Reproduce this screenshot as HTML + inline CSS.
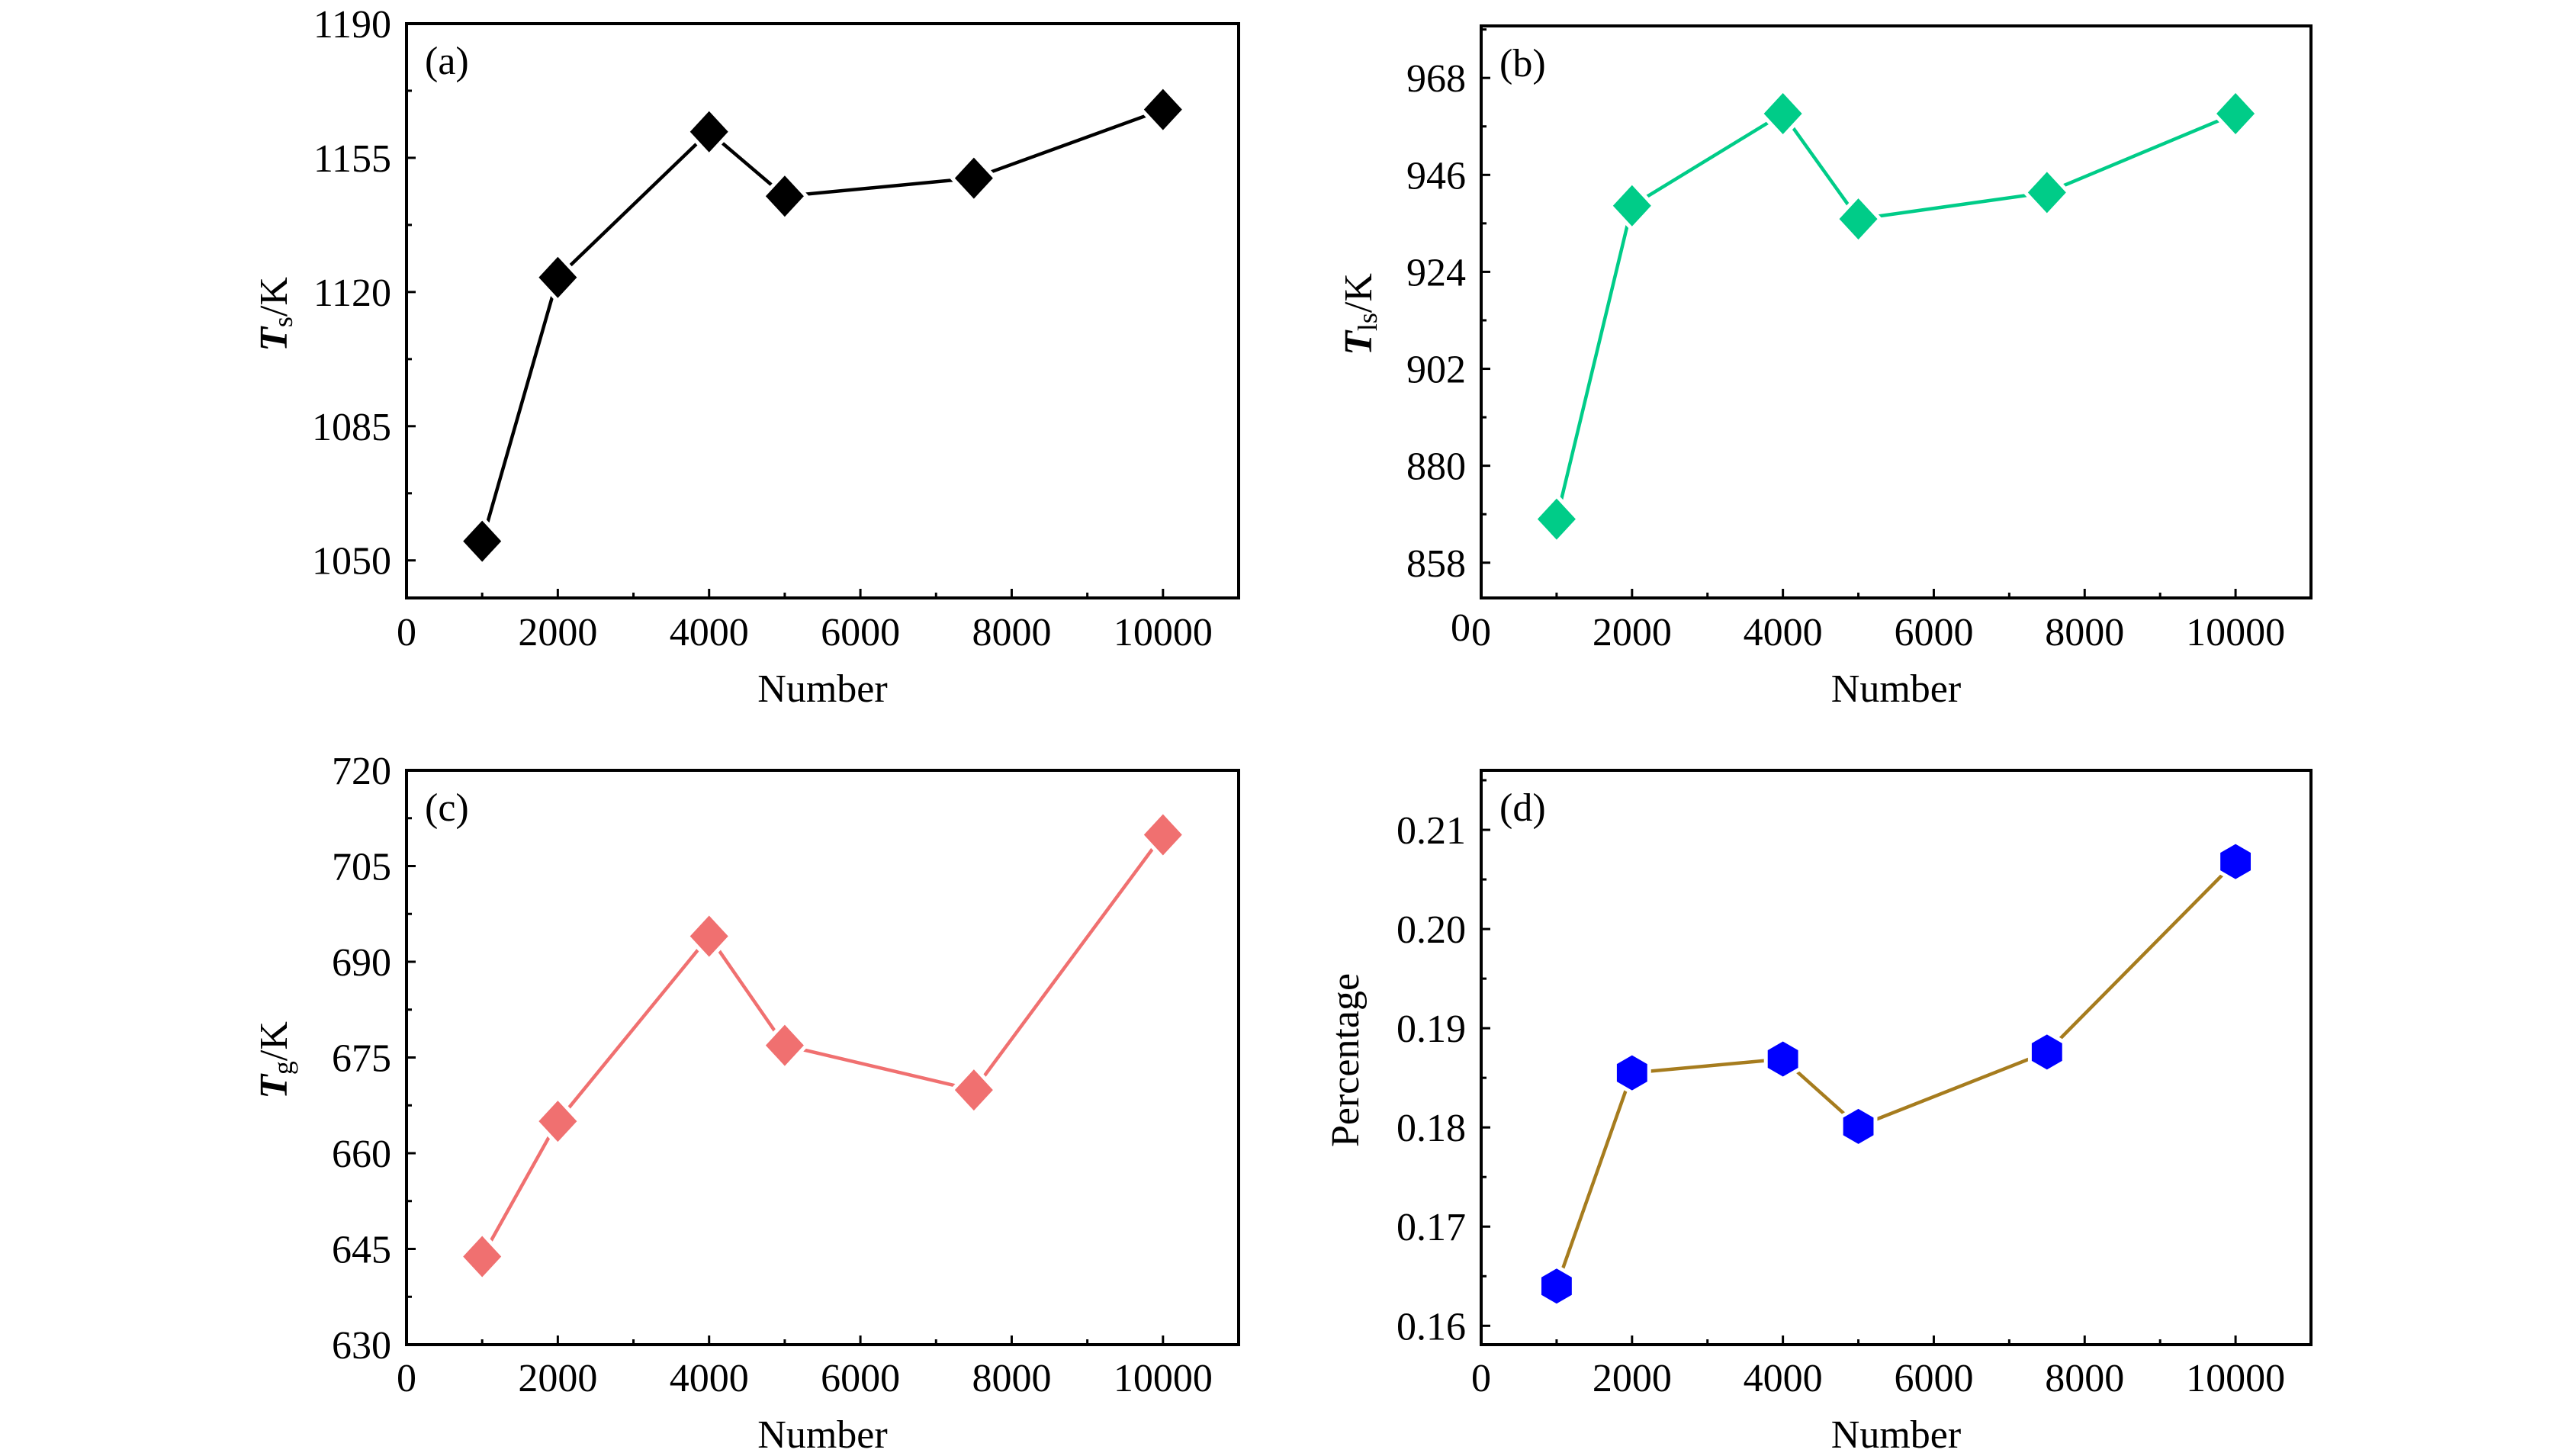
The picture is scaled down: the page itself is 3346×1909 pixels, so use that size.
<!DOCTYPE html>
<html><head><meta charset="utf-8"><style>
html,body{margin:0;padding:0;background:#fff;overflow:hidden;}
svg{display:block;}
text{font-family:"Liberation Serif","DejaVu Serif",serif;fill:#000;}
</style></head><body>
<svg id="fig" width="3346" height="1909" viewBox="0 0 3346 1909" xmlns="http://www.w3.org/2000/svg"></svg>
<script>
const categories = [1000, 2000, 4000, 5000, 7500, 10000];
const seriesA = [1055, 1123.8, 1161.8, 1145, 1149.7, 1167.6];
const seriesB = [867.9, 939.0, 959.9, 936.0, 942.0, 959.9];
const seriesC = [643.8, 665.0, 694.0, 676.9, 669.9, 709.9];
const seriesD = [0.1640, 0.1855, 0.1869, 0.1801, 0.1876, 0.2068];
const xTicks = [0, 2000, 4000, 6000, 8000, 10000];
const xMinor = [1000, 3000, 5000, 7000, 9000];
const ticksA = [1050, 1085, 1120, 1155, 1190];
const ticksB = [858, 880, 902, 924, 946, 968];
const ticksC = [630, 645, 660, 675, 690, 705, 720];
const ticksD = [0.16, 0.17, 0.18, 0.19, 0.20, 0.21];

const NS = "http://www.w3.org/2000/svg";
const svg = document.getElementById('fig');
function mk(tag, attrs, parent){const e=document.createElementNS(NS,tag);for(const k in attrs)e.setAttribute(k,attrs[k]);(parent||svg).appendChild(e);return e;}
const FS = 52;

const panels = [
 {id:'a',L:533,R:1624,T:31,B:784,ymin:1040.2,ymax:1190,ticks:ticksA,minorStep:17.5,data:seriesA,color:'#000000',mcolor:'#000000',marker:'diamond',fmt:v=>String(v),ttl:['T','s','/K'],tx:360,ty:412,xlY:846,nY:920,extraZero:false},
 {id:'b',L:1942,R:3030,T:34,B:784,ymin:850,ymax:979.8,ticks:ticksB,minorStep:11,data:seriesB,color:'#00CC88',mcolor:'#00CC88',marker:'diamond',fmt:v=>String(v),ttl:['T','ls','/K'],tx:1782,ty:412,xlY:846,nY:920,extraZero:true},
 {id:'c',L:533,R:1624,T:1010,B:1763,ymin:630,ymax:720,ticks:ticksC,minorStep:7.5,data:seriesC,color:'#F07070',mcolor:'#F07070',marker:'diamond',fmt:v=>String(v),ttl:['T','g','/K'],tx:360,ty:1390,xlY:1824,nY:1898,extraZero:false},
 {id:'d',L:1942,R:3030,T:1010,B:1763,ymin:0.1581,ymax:0.216,ticks:ticksD,minorStep:0.005,data:seriesD,color:'#A67C1E',mcolor:'#0000FF',marker:'hex',fmt:v=>v.toFixed(2),ttl:null,tx:1765,ty:1390,xlY:1824,nY:1898,extraZero:false}
];

panels.forEach(p=>{
  const g = mk('g',{});
  
  
  const xs = v => p.L + v/11000*(p.R-p.L);
  const ys = v => p.B - (v-p.ymin)/(p.ymax-p.ymin)*(p.B-p.T);
  const fr = mk('rect',{x:p.L,y:p.T,width:p.R-p.L,height:p.B-p.T,fill:'none',stroke:'#000','stroke-width':4},g);
  
  
  xTicks.forEach(v=>{
    mk('line',{x1:xs(v),x2:xs(v),y1:p.B,y2:p.B-12,stroke:'#000','stroke-width':3},g);
    const t = mk('text',{x:xs(v),y:p.xlY,'text-anchor':'middle','font-size':FS},g);
    t.textContent = v;
    
    
  });
  if(p.extraZero){
    const t = mk('text',{x:p.L-27,y:p.xlY-6,'text-anchor':'middle','font-size':FS},g);
    t.textContent = '0';
    
    
  }
  xMinor.forEach(v=>{ mk('line',{x1:xs(v),x2:xs(v),y1:p.B,y2:p.B-7,stroke:'#000','stroke-width':3},g); });
  p.ticks.forEach(v=>{
    mk('line',{x1:p.L,x2:p.L+12,y1:ys(v),y2:ys(v),stroke:'#000','stroke-width':3},g);
    const t = mk('text',{x:p.L-20,y:ys(v)+18,'text-anchor':'end','font-size':FS},g);
    t.textContent = p.fmt(v);
    
    
  });
  for(let v=p.ticks[0]-p.minorStep; v<p.ymax; v+=p.minorStep*2){
    if(v>p.ymin) mk('line',{x1:p.L,x2:p.L+7,y1:ys(v),y2:ys(v),stroke:'#000','stroke-width':3},g);
  }
  const pl = mk('text',{x:p.L+24,y:p.T+66,'font-size':FS},g);
  pl.textContent = '('+p.id+')';
  
  
  const xt = mk('text',{x:(p.L+p.R)/2,y:p.nY,'text-anchor':'middle','font-size':FS},g);
  xt.textContent = 'Number';
  
  
  const yt = mk('text',{x:0,y:0,'text-anchor':'middle','font-size':FS,transform:`translate(${p.tx+16},${p.ty}) rotate(-90)`},g);
  if(p.ttl){
    const a=mk('tspan',{'font-style':'italic','font-weight':'bold'},yt); a.textContent=p.ttl[0];
    const b=mk('tspan',{'font-size':36,dy:7},yt); b.textContent=p.ttl[1];
    const c=mk('tspan',{dy:-7},yt); c.textContent=p.ttl[2];
  } else { yt.textContent='Percentage'; }
  
  
  const pts = categories.map((c,i)=>xs(c)+','+ys(p.data[i])).join(' ');
  const ln = mk('polyline',{points:pts,fill:'none',stroke:p.color,'stroke-width':4.5},g);
  
  
  categories.forEach((c,i)=>{
    const cx=xs(c), cy=ys(p.data[i]);
    let m;
    if(p.marker==='diamond'){
      const w=25,h=27;
      m = mk('polygon',{points:`${cx},${cy-h} ${cx+w},${cy} ${cx},${cy+h} ${cx-w},${cy}`,fill:p.mcolor,stroke:'#fff','stroke-width':10,'paint-order':'stroke'},g);
    } else {
      const r=23, pp=[];
      for(let k=0;k<6;k++){const a=Math.PI/2+k*Math.PI/3;pp.push((cx+r*Math.cos(a))+','+(cy-r*Math.sin(a)));}
      m = mk('polygon',{points:pp.join(' '),fill:p.mcolor,stroke:'#fff','stroke-width':10,'paint-order':'stroke'},g);
    }
    
    
  });
});
</script>
</body></html>
